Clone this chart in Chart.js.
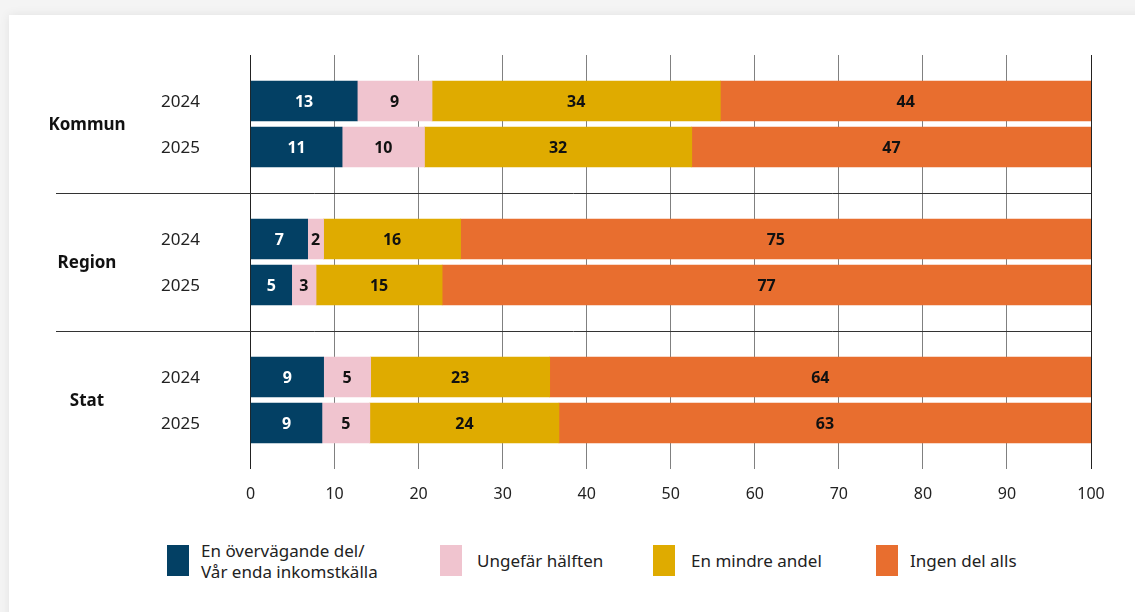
<!DOCTYPE html>
<html lang="sv">
<head>
  <meta charset="UTF-8">
  <title>Andel av inkomsterna</title>
  <script src="https://cdn.jsdelivr.net/npm/chart.js@4.4.1/dist/chart.umd.min.js"></script>
  <style>
    body {
      margin: 0;
      background: #f4f4f4;
      font-family: 'Noto Sans', sans-serif;
      width: 1135px;
      height: 612px;
      overflow: hidden;
    }
    .card {
      position: absolute;
      left: 9px;
      top: 15px;
      width: 1140px;
      height: 620px;
      background: #fff;
      box-shadow: 0 0 10px rgba(0, 0, 0, 0.08);
    }
    .chart-box {
      position: absolute;
      left: 0;
      top: 0;
      width: 1135px;
      height: 520px;
    }
    .legend-item {
      position: absolute;
      display: flex;
      align-items: center;
      font-size: 17px;
      line-height: 21px;
      color: #222;
    }
    .swatch {
      width: 22px;
      height: 31px;
      flex: none;
    }
  </style>
</head>
<body>
  <div class="card"></div>
  <div class="chart-box">
    <canvas id="chart"></canvas>
  </div>
  <div id="legend"></div>
  <script>
    // grupper och år
    const groups = ['Kommun', 'Region', 'Stat'];
    const years = ['2024', '2025'];

    // stapellängder (Kommun 2024, 2025, Region 2024, 2025, Stat 2024, 2025)
    const overvagande = [12.7, 10.9, 6.8, 4.9, 8.7, 8.5];
    const halften = [8.9, 9.8, 1.9, 2.9, 5.6, 5.7];
    const mindre = [34.3, 31.8, 16.3, 15.0, 21.3, 22.5];
    const ingen = [44.1, 47.5, 75.0, 77.2, 64.4, 63.3];

    // etiketter som står i staplarna
    const overvagandeText = ['13', '11', '7', '5', '9', '9'];
    const halftenText = ['9', '10', '2', '3', '5', '5'];
    const mindreText = ['34', '32', '16', '15', '23', '24'];
    const ingenText = ['44', '47', '75', '77', '64', '63'];

    const seriesNames = ['En övervägande del/\nVår enda inkomstkälla', 'Ungefär hälften', 'En mindre andel', 'Ingen del alls'];
    const seriesColors = ['#034064', '#f0c4cf', '#dfab00', '#e86e2f'];
    const xTicks = [0, 10, 20, 30, 40, 50, 60, 70, 80, 90, 100];

    // tomma kategorier mellan grupperna ger avstånd och plats för skiljelinjer
    const labels = [''];
    groups.forEach(() => { years.forEach(y => labels.push(y)); labels.push(''); });

    function expand(arr) {
      const out = [null];
      let k = 0;
      groups.forEach(() => {
        years.forEach(() => out.push(arr[k++]));
        out.push(null);
      });
      return out;
    }

    const values = [overvagande, halften, mindre, ingen];
    const texts = [overvagandeText, halftenText, mindreText, ingenText];

    const datasets = values.map((v, i) => ({
      label: seriesNames[i],
      data: expand(v),
      backgroundColor: seriesColors[i],
      barThickness: 40,
      borderWidth: 0
    }));

    // etiketter, år, gruppnamn och skiljelinjer
    const decorPlugin = {
      id: 'decor',
      afterDatasetsDraw(chart) {
        const c = chart.ctx;
        const area = chart.chartArea;
        const yScale = chart.scales.y;
        c.save();

        // skiljelinjer vid tomma kategorier mellan grupperna
        c.strokeStyle = '#333';
        c.lineWidth = 1;
        for (let g = 1; g < groups.length; g++) {
          const y = Math.round(yScale.getPixelForValue(g * 3)) + 0.5;
          c.beginPath();
          c.moveTo(56, y);
          c.lineTo(area.right, y);
          c.stroke();
        }

        c.textBaseline = 'middle';

        // år
        c.font = '17px "Noto Sans"';
        c.fillStyle = '#222';
        c.textAlign = 'right';
        labels.forEach((l, i) => {
          if (l) c.fillText(l, 200, yScale.getPixelForValue(i) + 1);
        });

        // gruppnamn
        c.font = 'bold 17px "Noto Sans"';
        c.fillStyle = '#111';
        c.textAlign = 'center';
        groups.forEach((g, i) => {
          const y = (yScale.getPixelForValue(i * 3 + 1) + yScale.getPixelForValue(i * 3 + 2)) / 2;
          c.fillText(g, 87, y + 1);
        });

        // värden i staplarna
        c.font = 'bold 16px "Noto Sans"';
        chart.data.datasets.forEach((ds, di) => {
          const meta = chart.getDatasetMeta(di);
          let k = 0;
          meta.data.forEach((bar, idx) => {
            if (ds.data[idx] == null) return;
            const t = texts[di][k++];
            c.fillStyle = di === 0 ? '#fff' : '#111';
            c.fillText(t, (bar.x + bar.base) / 2, bar.y + 1);
          });
        });
        c.restore();
      }
    };

    const ctx = document.getElementById('chart').getContext('2d');
    new Chart(ctx, {
      type: 'bar',
      data: { labels: labels, datasets: datasets },
      options: {
        indexAxis: 'y',
        responsive: true,
        maintainAspectRatio: false,
        animation: false,
        layout: { padding: { top: 55, right: 44, left: 0, bottom: 0 } },
        plugins: {
          legend: { display: false },
          tooltip: { enabled: false }
        },
        scales: {
          x: {
            stacked: true,
            min: 0,
            max: 100,
            afterBuildTicks(scale) { scale.ticks = xTicks.map(v => ({ value: v })); },
            afterFit(scale) { scale.height = 51; },
            border: { display: false },
            grid: {
              drawTicks: false,
              color: c => (c.tick && (c.tick.value === 0 || c.tick.value === 100)) ? '#222' : '#808080',
              lineWidth: 1
            },
            ticks: {
              padding: 16,
              color: '#222',
              font: { family: 'Noto Sans', size: 16 }
            }
          },
          y: {
            stacked: true,
            offset: false,
            afterFit(scale) { scale.width = 250.5; },
            border: { display: false },
            grid: { display: false, drawTicks: false },
            ticks: { display: false, autoSkip: false }
          }
        }
      },
      plugins: [decorPlugin]
    });

    // förklaring under diagrammet
    const legendPos = [
      { x: 167, text: 201 },
      { x: 440, text: 477 },
      { x: 653, text: 691 },
      { x: 876, text: 910 }
    ];
    const legend = document.getElementById('legend');
    seriesNames.forEach((name, i) => {
      const item = document.createElement('div');
      item.className = 'legend-item';
      item.style.left = legendPos[i].x + 'px';
      item.style.top = '545px';
      item.style.height = '31px';
      const sw = document.createElement('div');
      sw.className = 'swatch';
      sw.style.background = seriesColors[i];
      sw.style.marginRight = (legendPos[i].text - legendPos[i].x - 22) + 'px';
      const label = document.createElement('div');
      label.innerHTML = name.replace('\n', '<br>');
      item.appendChild(sw);
      item.appendChild(label);
      legend.appendChild(item);
    });
  </script>
</body>
</html>
